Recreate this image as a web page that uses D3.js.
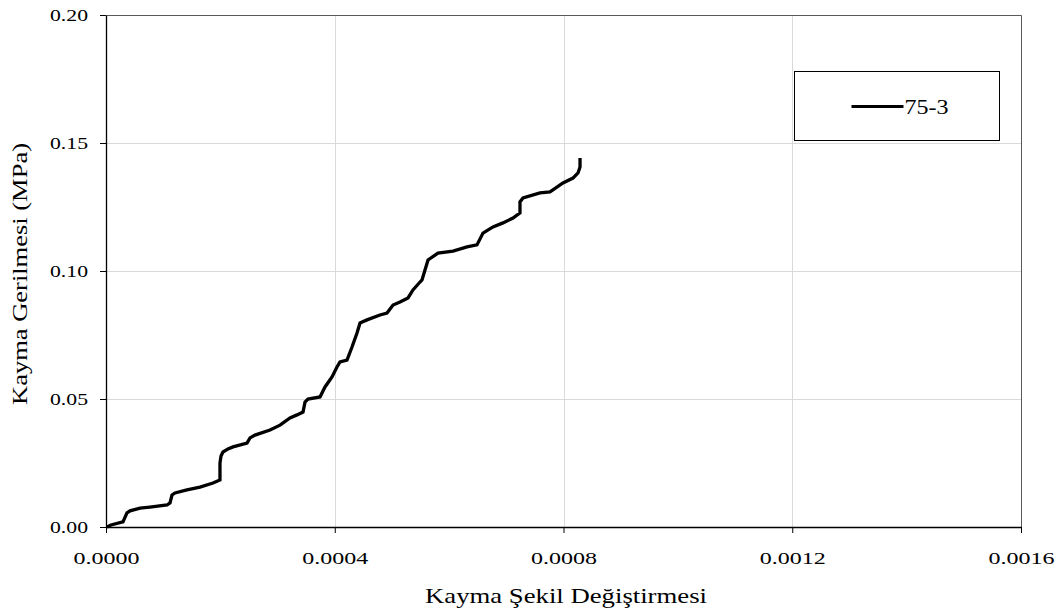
<!DOCTYPE html>
<html>
<head>
<meta charset="utf-8">
<title>Kayma Gerilmesi - Şekil Değiştirmesi</title>
<style>
  body { margin: 0; background: #fff; }
</style>
</head>
<body>
<main></main>
<script src="https://cdn.jsdelivr.net/npm/d3@7"></script>
<script>
// okunan degerler (x: kayma sekil degistirmesi, y: kayma gerilmesi MPa)
var seriesName = "75-3";
var strain = [0.0000017, 0.0000087, 0.0000297, 0.0000367, 0.0000420, 0.0000595, 0.0000769,
  0.0001067, 0.0001119, 0.0001154, 0.0001207, 0.0001416, 0.0001644, 0.0001871, 0.0001993,
  0.0001993, 0.0002011, 0.0002046, 0.0002133, 0.0002221, 0.0002466, 0.0002518, 0.0002605,
  0.0002868, 0.0003043, 0.0003217, 0.0003340, 0.0003445, 0.0003480, 0.0003532, 0.0003742,
  0.0003830, 0.0003952, 0.0004039, 0.0004092, 0.0004214, 0.0004302, 0.0004389, 0.0004442,
  0.0004564, 0.0004791, 0.0004914, 0.0005019, 0.0005141, 0.0005281, 0.0005368, 0.0005491,
  0.0005526, 0.0005578, 0.0005631, 0.0005805, 0.0006068, 0.0006313, 0.0006487, 0.0006592,
  0.0006767, 0.0006942, 0.0007117, 0.0007239, 0.0007239, 0.0007292, 0.0007589, 0.0007764,
  0.0007991, 0.0008166, 0.0008254, 0.0008289, 0.0008289];
var stress = [0.0000, 0.0008, 0.0020, 0.0055, 0.0063, 0.0074, 0.0078,
  0.0086, 0.0094, 0.0125, 0.0133, 0.0145, 0.0156, 0.0172, 0.0184,
  0.0250, 0.0277, 0.0293, 0.0305, 0.0313, 0.0328, 0.0348, 0.0359,
  0.0379, 0.0398, 0.0426, 0.0438, 0.0449, 0.0488, 0.0500, 0.0508,
  0.0547, 0.0586, 0.0625, 0.0645, 0.0652, 0.0703, 0.0758, 0.0797,
  0.0809, 0.0828, 0.0836, 0.0867, 0.0879, 0.0895, 0.0926, 0.0957,
  0.0965, 0.1004, 0.1043, 0.1070, 0.1078, 0.1094, 0.1102, 0.1148,
  0.1172, 0.1188, 0.1207, 0.1227, 0.1270, 0.1285, 0.1305, 0.1309,
  0.1344, 0.1363, 0.1383, 0.1406, 0.1441];
var xTicks = [0, 0.0004, 0.0008, 0.0012, 0.0016];
var yTicks = [0, 0.05, 0.10, 0.15, 0.20];

var width = 1060, height = 612;
var margin = {top: 15, right: 39, bottom: 85, left: 106};
var w = width - margin.left - margin.right;
var h = height - margin.top - margin.bottom;
var serif = "'Times New Roman', 'Liberation Serif', serif";

var svg = d3.select("main").append("svg")
    .attr("width", width)
    .attr("height", height);

var x = d3.scaleLinear().domain([0, 0.0016]).range([0, w]);
var y = d3.scaleLinear().domain([0, 0.20]).range([h, 0]);

var g = svg.append("g").attr("transform", "translate(" + margin.left + "," + margin.top + ")");

// izgara
g.selectAll(".vgrid").data(xTicks.slice(1)).enter().append("line")
    .attr("x1", function (d) { return Math.round(x(d)) + 0.5; })
    .attr("x2", function (d) { return Math.round(x(d)) + 0.5; })
    .attr("y1", 0).attr("y2", h)
    .attr("stroke", "#d9d9d9").attr("stroke-width", 1);
g.selectAll(".hgrid").data(yTicks.slice(1)).enter().append("line")
    .attr("x1", 0).attr("x2", w)
    .attr("y1", function (d) { return Math.round(y(d)) + 0.5; })
    .attr("y2", function (d) { return Math.round(y(d)) + 0.5; })
    .attr("stroke", "#d9d9d9").attr("stroke-width", 1);

// ust ve sag cerceve
g.append("path")
    .attr("d", "M0.5,0.5H" + (w + 0.5) + "V" + h)
    .attr("fill", "none").attr("stroke", "#595959").attr("stroke-width", 1);

// eksenler
var xAxis = g.append("g")
    .attr("transform", "translate(0," + h + ")")
    .call(d3.axisBottom(x).tickValues(xTicks).tickFormat(d3.format(".4f")).tickSize(6).tickSizeOuter(0));
var yAxis = g.append("g")
    .call(d3.axisLeft(y).tickValues(yTicks).tickFormat(d3.format(".2f")).tickSize(6).tickSizeOuter(0));

[xAxis, yAxis].forEach(function (a) {
    a.attr("font-family", null).attr("font-size", null);
    a.select(".domain").attr("stroke", "#000").attr("stroke-width", 1.3);
    a.selectAll(".tick line").attr("stroke", "#000");
    a.selectAll(".tick text")
        .style("font-family", serif)
        .style("font-size", "17px")
        .attr("fill", "#000")
        .attr("lengthAdjust", "spacingAndGlyphs");
});
// tablo resmi yatayda gerilmis, etiket genislikleri ona gore
xAxis.selectAll(".tick text").attr("y", 32).attr("dy", "0.32em").attr("textLength", 66);
yAxis.selectAll(".tick text").attr("x", -18).attr("textLength", 38);

// egri
var pts = strain.map(function (d, i) { return [d, stress[i]]; });
var line = d3.line()
    .x(function (d) { return x(d[0]); })
    .y(function (d) { return y(d[1]); });
g.append("path")
    .datum(pts)
    .attr("d", line)
    .attr("fill", "none")
    .attr("stroke", "#000")
    .attr("stroke-width", 3.3)
    .attr("stroke-linejoin", "miter");

// eksen basliklari
svg.append("text")
    .attr("x", 425)
    .attr("y", 603)
    .style("font-family", serif)
    .style("font-size", "21px")
    .attr("textLength", 282)
    .attr("lengthAdjust", "spacingAndGlyphs")
    .text("Kayma Şekil Değiştirmesi");
svg.append("text")
    .attr("transform", "translate(27,405) rotate(-90)")
    .style("font-family", serif)
    .style("font-size", "22px")
    .attr("textLength", 262)
    .attr("lengthAdjust", "spacingAndGlyphs")
    .text("Kayma Gerilmesi (MPa)");

// lejant
var lg = svg.append("g").attr("transform", "translate(794.5,71.5)");
lg.append("rect")
    .attr("width", 205).attr("height", 69)
    .attr("fill", "#fff").attr("stroke", "#000").attr("stroke-width", 1);
lg.append("line")
    .attr("x1", 57).attr("x2", 109).attr("y1", 35).attr("y2", 35)
    .attr("stroke", "#000").attr("stroke-width", 3);
lg.append("text")
    .attr("x", 110).attr("y", 42)
    .style("font-family", serif)
    .style("font-size", "20px")
    .attr("textLength", 44)
    .attr("lengthAdjust", "spacingAndGlyphs")
    .text(seriesName);
</script>
</body>
</html>
